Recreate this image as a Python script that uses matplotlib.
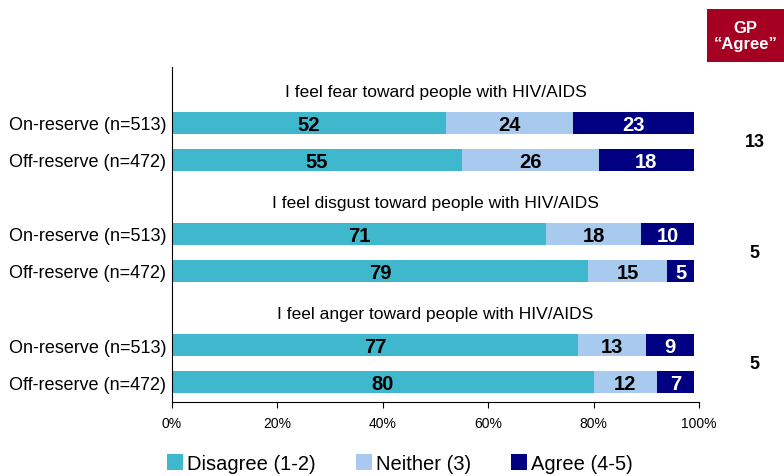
import matplotlib.pyplot as plt
from matplotlib.patches import Rectangle
import numpy as np

plt.rcParams['font.family'] = ['Liberation Sans', 'DejaVu Sans']

# data
groups = ['I feel fear toward people with HIV/AIDS',
          'I feel disgust toward people with HIV/AIDS',
          'I feel anger toward people with HIV/AIDS']
rows = ['On-reserve (n=513)', 'Off-reserve (n=472)']
disagree = [52, 55, 71, 79, 77, 80]
neither = [24, 26, 18, 15, 13, 12]
agree = [23, 18, 10, 5, 9, 7]
gp_agree = [13, 5, 5]
series_names = ['Disagree (1-2)', 'Neither (3)', 'Agree (4-5)']
colors = ['#3FB7CD', '#A8CAEE', '#000080']
text_colors = ['black', 'black', 'white']

fig = plt.figure(figsize=(7.84, 4.77), dpi=100)
ax = fig.add_axes([0.2194, 0.1551, 0.6722, 0.7023])

ypos = []
for g in range(len(groups)):
    for r in range(len(rows)):
        ypos.append(g * 3 + r)
ypos = np.array(ypos)

left = np.zeros(len(ypos))
for vals, col, tc, name in zip([disagree, neither, agree], colors, text_colors, series_names):
    vals = np.array(vals)
    ax.barh(ypos, vals, left=left, height=0.6, color=col, label=name)
    for y, l, v in zip(ypos, left, vals):
        ax.text(l + v / 2, y + 0.03, str(v), ha='center', va='center',
                fontsize=14.5, fontweight='bold', color=tc)
    left = left + vals

# group titles
for g, title in enumerate(groups):
    ax.text(50, g * 3 - 0.86, title, ha='center', va='center', fontsize=12.5)

ax.set_yticks(ypos)
ax.set_yticklabels(rows * len(groups), fontsize=13)
ax.tick_params(axis='y', length=0, pad=4)
ax.set_ylim(7.54, -1.51)
ax.set_xlim(0, 100)
ax.set_xticks(np.arange(0, 101, 20))
ax.set_xticklabels([f'{t}%' for t in range(0, 101, 20)], fontsize=10)
ax.tick_params(axis='x', direction='out', length=4, pad=6)
for s in ['top', 'right']:
    ax.spines[s].set_visible(False)

# GP column
for g, v in enumerate(gp_agree):
    ax.text(1.106, g * 3 + 0.5, str(v), transform=ax.get_yaxis_transform(),
            ha='center', va='center', fontsize=13, fontweight='bold')
fig.patches.append(Rectangle((0.902, 0.868), 0.098, 0.111, transform=fig.transFigure,
                             facecolor='#A50021', edgecolor='none'))
fig.text(0.951, 0.9235, 'GP\n\u201cAgree\u201d', ha='center', va='center',
         color='white', fontsize=12, fontweight='bold', linespacing=1.15)

fig.legend(loc='center', bbox_to_anchor=(0.51, 0.026), ncol=3, frameon=False,
           fontsize=14.5, handlelength=0.8, handleheight=0.8, handletextpad=0.2,
           columnspacing=2.0)

plt.savefig('out.png', dpi=100)
